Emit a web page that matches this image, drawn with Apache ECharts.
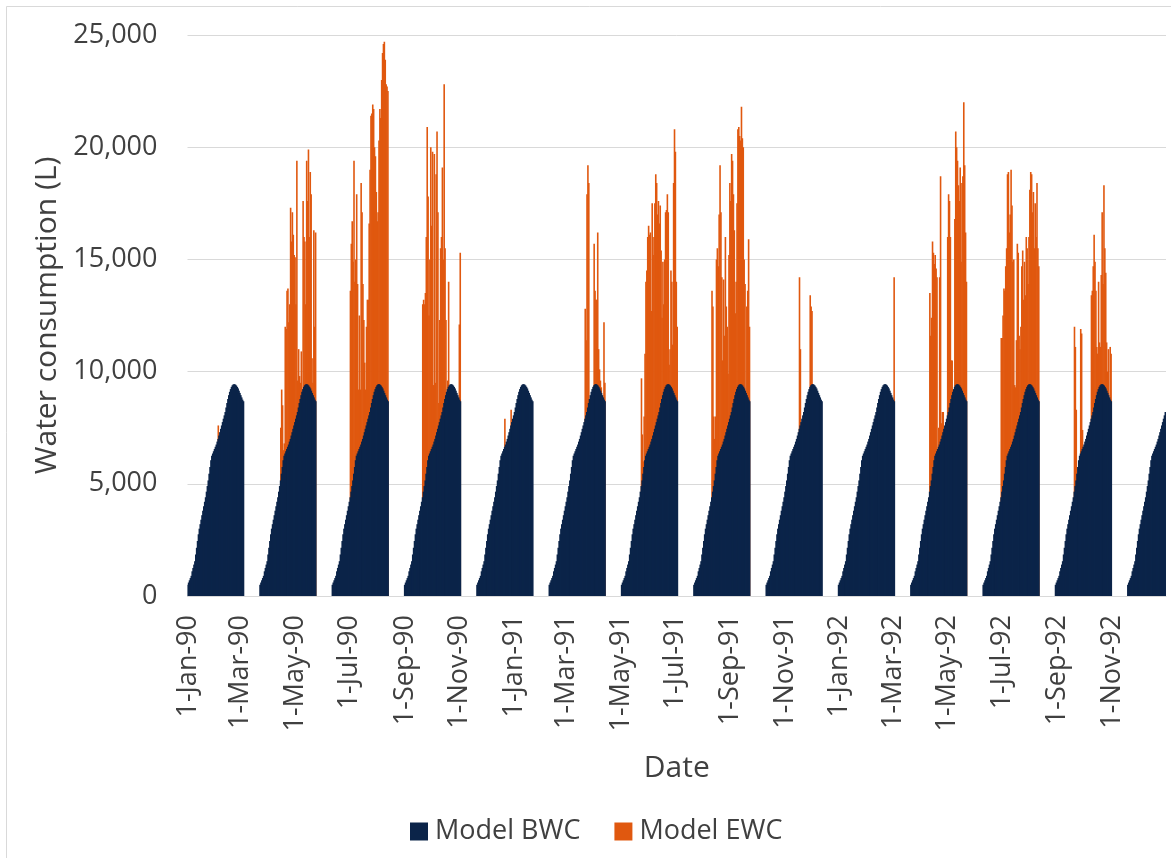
<!DOCTYPE html>
<html>
<head>
<meta charset="utf-8">
<script src="https://cdn.jsdelivr.net/npm/echarts@6/dist/echarts.min.js"></script>
<style>
html,body{margin:0;padding:0;background:#fff;}
#chart{width:1171px;height:858px;}
</style>
</head>
<body>
<div id="chart"></div>
<script>
// ---- DATA ----
const tickLabels = ['1-Jan-90','1-Mar-90','1-May-90','1-Jul-90','1-Sep-90','1-Nov-90',
  '1-Jan-91','1-Mar-91','1-May-91','1-Jul-91','1-Sep-91','1-Nov-91',
  '1-Jan-92','1-Mar-92','1-May-92','1-Jul-92','1-Sep-92','1-Nov-92'];
const firstDay = '1990-01-01';
const dayCount = 1096;

// BWC: daily values of one filling cycle (day 0..62)
const bwcCycle = [500,600,700,800,900,1100,1250,1400,1550,1850,2150,2450,2750,3000,3200,3400,
  3600,3800,4000,4200,4400,4650,4900,5150,5450,5750,6050,6250,6350,6450,6550,6650,6750,6880,
  7000,7150,7300,7450,7600,7750,7900,8050,8200,8400,8600,8780,8950,9100,9220,9320,9390,9430,
  9440,9420,9380,9320,9250,9150,9050,8950,8850,8750,8680];
// first day index of every cycle
const cycleStarts = [0,81,162,243,324,405,486,567,648,729,810,891,972,1053];

// EWC: first day (within the cycle) of each cycle's values
const ewcStart = [34,23,20,20,31,40,22,20,37,62,21,20,21];
const ewcC0 = [7600];
const ewcC1 = [7500,9200,8500,6500,6800,12000,11900,13600,13700,12200,13000,17300,15800,17100,16100,
  15200,15100,13000,19400,9600,11000,9800,9500,10900,0,17600,16000,15800,13000,19400,17600,19900,
  16000,18900,17900,10600,9500,16300,12000,16200];
const ewcC2 = [13600,15700,16700,14900,19400,14000,15000,17900,13900,9200,12500,9200,18400,17100,
  13900,12300,10400,9200,12000,13200,13200,16600,19000,21400,21500,21900,21700,20000,19600,18000,
  16700,17100,20300,21700,21300,23000,24200,24600,24700,23900,22800,22700,22500];
const ewcC3 = [13000,13200,13000,13500,16000,20900,17800,12500,15000,20000,16500,19800,9400,19700,
  9500,18800,20700,17100,8600,12300,15500,16000,19100,15000,22800,15500,12300,0,9600,14000,0,0,0,0,
  0,0,0,0,0,0,0,12100,15300];
const ewcC4 = [7900,0,0,0,0,0,0,8300];
const ewcC5 = [12800,11400,17900,19200,18400,0,0,0,0,0,15700,13600,13200,13200,16200,11000,10100,
  9600,9300,0,0,12200,9500];
const ewcC6 = [9700,7200,6000,8000,10800,14000,14500,16000,16500,16100,16200,12700,17500,15200,16000,
  17500,18800,18400,17000,17600,16600,17400,15400,12400,14900,13000,15000,17100,17200,17900,17100,
  10300,11000,14500,14000,11200,18400,20800,19800,14000,12000];
const ewcC7 = [13600,12900,8000,7000,8000,15000,15500,14700,17000,19200,17100,14200,10500,14100,11600,
  16000,12900,12000,9900,15200,18400,17600,19700,19400,17900,16300,12600,14000,17500,20800,20900,
  20500,20300,21800,20400,20000,15000,13900,0,12900,13600,15900,12000];
const ewcC8 = [14200,11000,0,0,0,0,0,0,0,0,0,0,13400,12900,12700];
const ewcC9 = [14200];
const ewcC10 = [13500,11600,12400,15800,15300,14800,15200,14600,14200,0,7500,14200,18700,7700,8200,
  8200,0,0,0,0,16000,17900,17600,16000,10500,10500,0,0,16800,20700,20000,19400,18300,17600,19100,
  14900,18400,18700,22000,19200,16200,14000];
const ewcC11 = [11500,11500,12500,13700,13600,14700,15500,18800,18900,16200,17000,19000,17400,14900,
  15000,9400,9300,11400,15700,15300,11600,11000,12000,14700,15400,13200,14900,13400,16000,15500,
  13900,16000,18100,18900,18800,17100,18000,15500,17500,16000,18400,15500,14700];
const ewcC12 = [12000,11100,8300,0,0,0,0,11900,11700,7400,0,0,0,0,0,0,0,0,0,13400,13600,14700,16100,
  14900,13600,11100,10800,14000,11300,11100,14300,17100,13900,18300,15500,14400,11300,10000,11000,
  0,11100,10800];

// ---- BUILD ----
const MONTHS = ['Jan','Feb','Mar','Apr','May','Jun','Jul','Aug','Sep','Oct','Nov','Dec'];
const t0 = Date.parse(firstDay + 'T00:00:00Z');
const categories = [];
for (let i = 0; i < dayCount; i++) {
  const d = new Date(t0 + i * 86400000);
  categories.push(d.getUTCDate() + '-' + MONTHS[d.getUTCMonth()] + '-' + String(d.getUTCFullYear()).slice(2));
}
const bwc = new Array(dayCount).fill(0);
cycleStarts.forEach(s => {
  bwcCycle.forEach((v, k) => { if (s + k < dayCount) bwc[s + k] = v; });
});
const ewcCycles = [ewcC0,ewcC1,ewcC2,ewcC3,ewcC4,ewcC5,ewcC6,ewcC7,ewcC8,ewcC9,ewcC10,ewcC11,ewcC12];
const ewc = new Array(dayCount).fill(0);
ewcCycles.forEach((arr, c) => {
  arr.forEach((v, j) => {
    const idx = cycleStarts[c] + ewcStart[c] + j;
    if (idx < dayCount) ewc[idx] = v;
  });
});
const tickSet = new Set(tickLabels);

const FONT = 'Open Sans';
const TXT = '#404040';
const chart = echarts.init(document.getElementById('chart'), null, {renderer: 'canvas'});
chart.setOption({
  animation: false,
  backgroundColor: '#ffffff',
  graphic: [{
    type: 'rect', silent: true, z: -10,
    shape: {x: 6.5, y: 6.5, width: 1200, height: 900},
    style: {fill: 'none', stroke: '#D9D9D9', lineWidth: 1}
  }],
  grid: {left: 187.5, top: 35, width: 978.5, height: 561},
  legend: {
    data: ['Model BWC', 'Model EWC'],
    left: 405, top: 813,
    icon: 'rect', itemWidth: 18, itemHeight: 18, itemGap: 34,
    textStyle: {fontFamily: FONT, fontSize: 27, color: TXT, padding: [0, 0, 0, 2]}
  },
  xAxis: [{
    type: 'category',
    data: categories,
    boundaryGap: true,
    name: 'Date',
    nameLocation: 'middle',
    nameGap: 157,
    nameTextStyle: {fontFamily: FONT, fontSize: 30, color: TXT},
    axisLine: {show: true, lineStyle: {color: '#D9D9D9', width: 1}},
    axisTick: {show: false},
    axisLabel: {
      interval: (idx, val) => tickSet.has(val),
      rotate: 90,
      margin: 19,
      fontFamily: FONT, fontSize: 27, color: TXT
    },
    splitLine: {show: false}
  }, {
    type: 'category',
    data: categories,
    boundaryGap: true,
    position: 'bottom',
    show: false
  }],
  yAxis: {
    type: 'value',
    min: 0, max: 25000, interval: 5000,
    name: 'Water consumption (L)',
    nameLocation: 'middle',
    nameRotate: 90,
    nameGap: 124,
    nameTextStyle: {fontFamily: FONT, fontSize: 30, color: TXT},
    axisLine: {show: false},
    axisTick: {show: false},
    axisLabel: {
      margin: 30,
      fontFamily: FONT, fontSize: 27, color: TXT,
      formatter: v => v.toLocaleString('en-US')
    },
    splitLine: {lineStyle: {color: '#D9D9D9', width: 1}}
  },
  series: [
    {
      name: 'Model EWC', type: 'bar', data: ewc, xAxisIndex: 0,
      barWidth: 1.6,
      itemStyle: {color: '#E0580F'}
    },
    {
      name: 'Model BWC', type: 'bar', data: bwc, xAxisIndex: 1,
      barWidth: 2,
      itemStyle: {color: '#0B2449'}
    }
  ]
});
</script>
</body>
</html>
